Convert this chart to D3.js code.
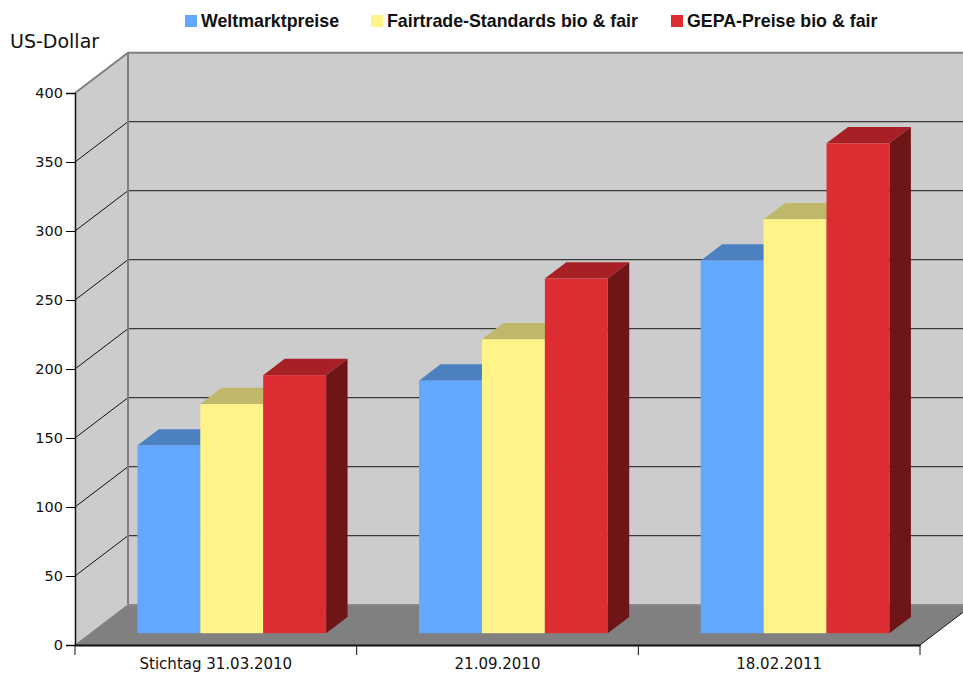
<!DOCTYPE html>
<html>
<head>
<meta charset="utf-8">
<script src="https://cdnjs.cloudflare.com/ajax/libs/d3/7.8.5/d3.min.js"></script>
<style>
body { margin: 0; background: #fff; }
svg { display: block; }
text { fill: #111; }
</style>
</head>
<body>
<svg id="chart" width="963" height="673"></svg>
<script>
const categories = ["Stichtag 31.03.2010", "21.09.2010", "18.02.2011"];
const seriesNames = ["Weltmarktpreise", "Fairtrade-Standards bio & fair", "GEPA-Preise bio & fair"];
const weltmarkt = [136, 183, 270];
const fairtrade = [166, 213, 300];
const gepa = [187, 257, 355];
const seriesValues = [weltmarkt, fairtrade, gepa];
const tickValues = [0, 50, 100, 150, 200, 250, 300, 350, 400];

const frontColors = ["#62a8ff", "#fff38a", "#dd2d32"];
const topColors = ["#4d80c0", "#bfb86a", "#a62026"];
const sideColors = ["#4a7ab5", "#a09a5c", "#6e1518"];
const legendX = [185, 371, 671];

const svg = d3.select("#chart");
const plotLeft = 75, plotRight = 920, plotBottom = 645, plotTop = 93;
const depthX = 53, depthY = 40.3;
const barD0 = 12 / 41, barD1 = 28.6 / 41;
const barNudge = 0.4;

const y = d3.scaleLinear().domain([0, 400]).range([plotBottom, plotTop]);
const xCat = d3.scaleBand().domain(categories).range([plotLeft, plotRight]).paddingInner(0.33).paddingOuter(0.165);
const xSer = d3.scaleBand().domain(d3.range(3)).range([0, xCat.bandwidth()]);

// shift a front plane point back by depth d (0..1)
const px = (x, d) => x + depthX * d;
const py = (yy, d) => yy - depthY * d;
const poly = pts => pts.map(p => p.join(",")).join(" ");

// walls and floor
svg.append("polygon")
  .attr("points", poly([[px(plotLeft, 1), py(plotTop, 1)], [px(plotRight, 1), py(plotTop, 1)], [px(plotRight, 1), py(plotBottom, 1)], [px(plotLeft, 1), py(plotBottom, 1)]]))
  .attr("fill", "#cccccc");
svg.append("polygon")
  .attr("points", poly([[plotLeft, plotTop], [px(plotLeft, 1), py(plotTop, 1)], [px(plotLeft, 1), py(plotBottom, 1)], [plotLeft, plotBottom]]))
  .attr("fill", "#cccccc");
svg.append("polygon")
  .attr("points", poly([[plotLeft, plotBottom], [px(plotLeft, 1), py(plotBottom, 1)], [px(plotRight, 1), py(plotBottom, 1)], [plotRight, plotBottom]]))
  .attr("fill", "#808080");

// gridlines
const gridG = svg.append("g");
tickValues.filter(v => v > 0 && v < 400).forEach(v => {
  gridG.append("line")
    .attr("x1", plotLeft).attr("y1", y(v)).attr("x2", px(plotLeft, 1)).attr("y2", py(y(v), 1))
    .attr("stroke", "#111").attr("stroke-width", 1);
  gridG.append("line")
    .attr("x1", px(plotLeft, 1)).attr("y1", py(y(v), 1)).attr("x2", px(plotRight, 1)).attr("y2", py(y(v), 1))
    .attr("stroke", "#3a3a3a").attr("stroke-width", 1.2);
});

// wall edges
svg.append("polyline")
  .attr("points", poly([[plotLeft, plotTop], [px(plotLeft, 1), py(plotTop, 1)], [px(plotRight, 1), py(plotTop, 1)]]))
  .attr("fill", "none").attr("stroke", "#808080").attr("stroke-width", 2);
svg.append("line")
  .attr("x1", px(plotLeft, 1)).attr("y1", py(plotTop, 1)).attr("x2", px(plotLeft, 1)).attr("y2", py(plotBottom, 1))
  .attr("stroke", "#808080").attr("stroke-width", 2);
svg.append("line")
  .attr("x1", plotLeft).attr("y1", plotBottom).attr("x2", px(plotLeft, 1)).attr("y2", py(plotBottom, 1))
  .attr("stroke", "#808080").attr("stroke-width", 1);
svg.append("line")
  .attr("x1", px(plotLeft, 1)).attr("y1", py(plotBottom, 1)).attr("x2", px(plotRight, 1)).attr("y2", py(plotBottom, 1))
  .attr("stroke", "#8c8c8c").attr("stroke-width", 1.5);
svg.append("line")
  .attr("x1", plotRight).attr("y1", plotBottom).attr("x2", px(plotRight, 1)).attr("y2", py(plotBottom, 1))
  .attr("stroke", "#111").attr("stroke-width", 1);

// bars
categories.forEach((cat, c) => {
  seriesValues.forEach((vals, s) => {
    const x0 = xCat(cat) + xSer(s) + barNudge;
    const x1 = x0 + xSer.bandwidth();
    const yTop = y(vals[c]);
    const g = svg.append("g");
    g.append("polygon")
      .attr("points", poly([[px(x0, barD0), py(yTop, barD0)], [px(x0, barD1), py(yTop, barD1)], [px(x1, barD1), py(yTop, barD1)], [px(x1, barD0), py(yTop, barD0)]]))
      .attr("fill", topColors[s]);
    g.append("polygon")
      .attr("points", poly([[px(x1, barD0), py(yTop, barD0)], [px(x1, barD1), py(yTop, barD1)], [px(x1, barD1), py(plotBottom, barD1)], [px(x1, barD0), py(plotBottom, barD0)]]))
      .attr("fill", sideColors[s]);
    g.append("rect")
      .attr("x", px(x0, barD0)).attr("y", py(yTop, barD0))
      .attr("width", xSer.bandwidth()).attr("height", y(0) - yTop)
      .attr("fill", frontColors[s]);
  });
});

// y axis
const yAxis = svg.append("g")
  .attr("transform", `translate(${plotLeft},0)`)
  .call(d3.axisLeft(y).tickValues(tickValues).tickSize(9).tickPadding(3));
yAxis.select(".domain").attr("stroke", "#111").attr("stroke-width", 1.5);
yAxis.selectAll("text").attr("font-family", "DejaVu Sans").attr("font-size", 14.5).attr("fill", "#111");

// x axis, ticks sit on the category borders
const xAxis = svg.append("g")
  .attr("transform", `translate(0,${plotBottom})`)
  .call(d3.axisBottom(xCat).tickSize(0).tickPadding(13.5));
xAxis.select(".domain").attr("stroke", "#111").attr("stroke-width", 2);
xAxis.selectAll("text").attr("font-family", "DejaVu Sans").attr("font-size", 15).attr("fill", "#111");
d3.range(4).forEach(i => {
  const tx = plotLeft + xCat.step() * i;
  xAxis.append("line").attr("x1", tx).attr("x2", tx).attr("y1", 0).attr("y2", 10)
    .attr("stroke", "#111").attr("stroke-width", 1);
});

// axis title
svg.append("text")
  .attr("x", 10).attr("y", 48)
  .attr("font-family", "DejaVu Sans").attr("font-size", 19)
  .text("US-Dollar");

// legend
seriesNames.forEach((name, i) => {
  svg.append("rect")
    .attr("x", legendX[i]).attr("y", 15).attr("width", 12).attr("height", 12)
    .attr("fill", frontColors[i]);
  svg.append("text")
    .attr("x", legendX[i] + 16).attr("y", 27)
    .attr("font-family", "Liberation Sans").attr("font-size", 17.8).attr("font-weight", "bold")
    .text(name);
});
</script>
</body>
</html>
